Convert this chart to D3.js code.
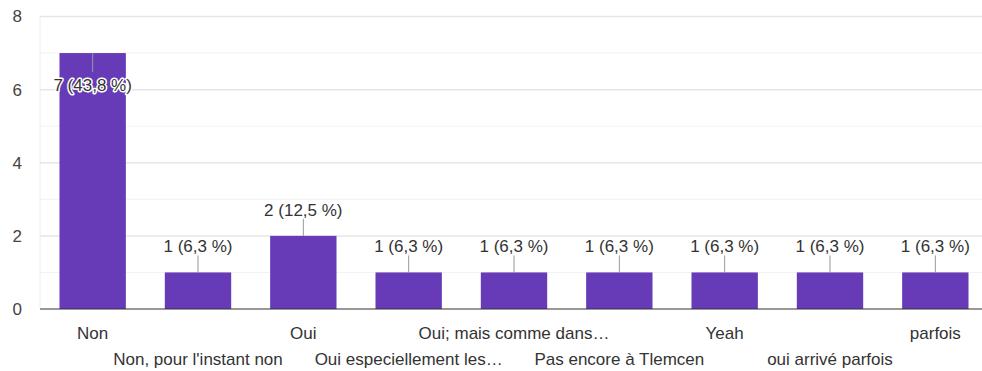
<!DOCTYPE html>
<html>
<head>
<meta charset="utf-8">
<script src="https://cdn.jsdelivr.net/npm/d3@7"></script>
<style>
  html, body { margin: 0; padding: 0; background: #fff; }
  svg { display: block; }
  text { font-family: "Liberation Sans", Arial, sans-serif; }
</style>
</head>
<body>
<svg id="chart" width="982" height="371"></svg>
<script>
// Responses per answer
const categories = [
  "Non",
  "Non, pour l'instant non",
  "Oui",
  "Oui especiellement les…",
  "Oui; mais comme dans…",
  "Pas encore à Tlemcen",
  "Yeah",
  "oui arrivé parfois",
  "parfois"
];
const counts = [7, 1, 2, 1, 1, 1, 1, 1, 1];
const percentLabels = ["43,8", "6,3", "12,5", "6,3", "6,3", "6,3", "6,3", "6,3", "6,3"];
const yTicks = [0, 2, 4, 6, 8];
const yMinorTicks = [1, 3, 5, 7];

const svg = d3.select("#chart");
const plotLeft = 40, plotRight = 988, plotTop = 16.5, plotBottom = 309;
const fontSize = 17;

const x = d3.scaleBand()
  .domain(categories)
  .range([plotLeft, plotRight])
  .paddingInner(0.37)
  .paddingOuter(0.185);

const y = d3.scaleLinear().domain([0, 8]).range([plotBottom, plotTop]);

// Minor gridlines
svg.append("g").selectAll("line").data(yMinorTicks).join("line")
  .attr("x1", plotLeft).attr("x2", plotRight)
  .attr("y1", d => y(d)).attr("y2", d => y(d))
  .attr("stroke", "#f2f2f2").attr("stroke-width", 1);

// Major gridlines
svg.append("g").selectAll("line").data(yTicks.filter(d => d > 0)).join("line")
  .attr("x1", plotLeft).attr("x2", plotRight)
  .attr("y1", d => y(d)).attr("y2", d => y(d))
  .attr("stroke", "#e6e6e6").attr("stroke-width", 1.5);

// Left edge of plot
svg.append("line")
  .attr("x1", plotLeft).attr("x2", plotLeft)
  .attr("y1", y(8)).attr("y2", y(0))
  .attr("stroke", "#ececec").attr("stroke-width", 1);

// Y axis labels
const yAxis = d3.axisLeft(y).tickValues(yTicks).tickSize(0).tickPadding(0);
const yg = svg.append("g").attr("transform", "translate(22,0)").call(yAxis);
yg.select(".domain").remove();
yg.selectAll("text")
  .attr("font-size", fontSize)
  .attr("fill", "#444")
  .attr("font-family", "'Liberation Sans', Arial, sans-serif");

// Bars
svg.append("g").selectAll("rect").data(counts).join("rect")
  .attr("x", (d, i) => x(categories[i]))
  .attr("width", x.bandwidth())
  .attr("y", d => y(d))
  .attr("height", d => y(0) - y(d))
  .attr("fill", "#673ab7");

// Baseline
svg.append("line")
  .attr("x1", plotLeft).attr("x2", plotRight)
  .attr("y1", y(0)).attr("y2", y(0))
  .attr("stroke", "#333").attr("stroke-width", 1.2);

// Value labels with leader lines
const labels = svg.append("g");
counts.forEach((d, i) => {
  const cx = x(categories[i]) + x.bandwidth() / 2;
  const topY = y(d);
  const txt = `${d} (${percentLabels[i]} %)`;
  const inside = y(d) - 40 < plotTop;
  if (inside) {
    labels.append("line")
      .attr("x1", cx).attr("x2", cx)
      .attr("y1", topY).attr("y2", topY + 19)
      .attr("stroke", "#999").attr("stroke-width", 1);
    labels.append("text")
      .attr("x", cx).attr("y", topY + 38)
      .attr("text-anchor", "middle")
      .attr("font-size", fontSize)
      .attr("fill", "#333")
      .attr("stroke", "#fff").attr("stroke-width", 3)
      .attr("paint-order", "stroke")
      .attr("stroke-linejoin", "round")
      .text(txt);
  } else {
    labels.append("line")
      .attr("x1", cx).attr("x2", cx)
      .attr("y1", topY).attr("y2", topY - 17)
      .attr("stroke", "#999").attr("stroke-width", 1);
    labels.append("text")
      .attr("x", cx).attr("y", topY - 20)
      .attr("text-anchor", "middle")
      .attr("font-size", fontSize)
      .attr("fill", "#333")
      .text(txt);
  }
});

// Category labels, alternating between two rows
svg.append("g").selectAll("text").data(categories).join("text")
  .attr("x", d => x(d) + x.bandwidth() / 2)
  .attr("y", (d, i) => i % 2 === 0 ? 339 : 365)
  .attr("text-anchor", "middle")
  .attr("font-size", fontSize)
  .attr("fill", "#333")
  .text(d => d);
</script>
</body>
</html>
